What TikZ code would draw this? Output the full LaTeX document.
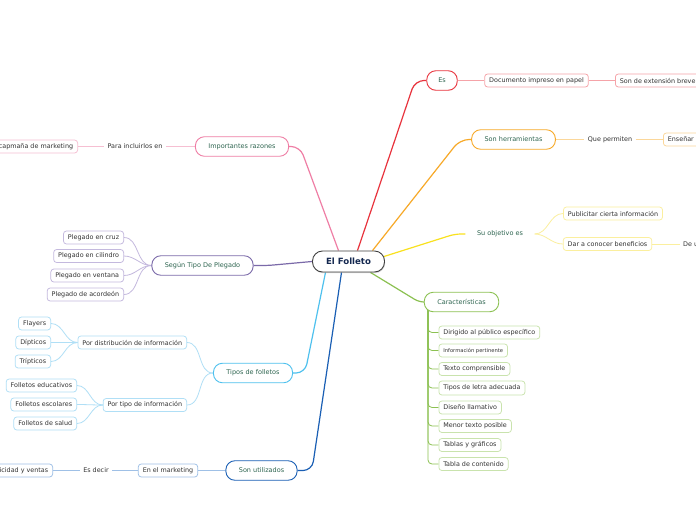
\documentclass[tikz,border=0pt]{standalone}
\usepackage{fontspec}
\setmainfont{DejaVu Sans}
\usetikzlibrary{calc,backgrounds,shadows}
\definecolor{redc}{HTML}{E8333D}
\definecolor{redl}{HTML}{F5A3A8}
\definecolor{orc}{HTML}{F7A928}
\definecolor{orl}{HTML}{FBD79A}
\definecolor{yelc}{HTML}{F9E11E}
\definecolor{yell}{HTML}{FBEF9E}
\definecolor{grc}{HTML}{8CC152}
\definecolor{grl}{HTML}{C9E3AD}
\definecolor{pkc}{HTML}{EF7EA5}
\definecolor{pkl}{HTML}{F6BFD2}
\definecolor{puc}{HTML}{7B6AA9}
\definecolor{pul}{HTML}{C4B9DE}
\definecolor{lbc}{HTML}{4FC1EE}
\definecolor{lbl}{HTML}{B0DFF6}
\definecolor{dbc}{HTML}{1A5FB4}
\definecolor{dbl}{HTML}{9FC0E6}
\definecolor{lvtext}{HTML}{2E6550}
\definecolor{ctext}{HTML}{333333}
\definecolor{roottext}{HTML}{142850}
\tikzset{
  rootbox/.style={draw=black!75, fill=white, rounded corners=10pt, line width=0.9pt,
    minimum height=21pt, inner xsep=13.5pt, inner ysep=0pt, text=roottext,
    font=\fontsize{8.6}{10}\selectfont\bfseries,
    drop shadow={shadow xshift=0.6pt, shadow yshift=-1.2pt, opacity=0.3}},
  lvone/.style={draw, fill=white, rounded corners=9pt, line width=0.9pt,
    minimum height=19.5pt, inner xsep=13pt, inner ysep=0pt, text=lvtext,
    font=\fontsize{6.5}{7.5}\selectfont},
  lvbare/.style={minimum height=19.5pt, inner xsep=11.5pt, inner ysep=0pt, text=lvtext,
    font=\fontsize{6.5}{7.5}\selectfont},
  lvtwo/.style={draw, fill=white, rounded corners=3pt, line width=0.75pt,
    minimum height=13pt, inner xsep=4.5pt, inner ysep=0pt, text=ctext},
  plainlbl/.style={minimum height=13pt, inner xsep=3.5pt, inner ysep=0pt, text=ctext},
  mainbr/.style={line width=1.2pt, rounded corners=9pt},
  subbr/.style={line width=0.8pt},
}
\begin{document}
\begin{tikzpicture}[x=1pt,y=-1pt, font=\fontsize{6.4}{7.5}\selectfont]
\useasboundingbox (0,0) rectangle (696,520);

% root
\node[rootbox] (root) at (348.5,261.5) {El Folleto};

% Es branch
\node[lvone, draw=redc, inner xsep=11.5pt] (es) at (442,80.5) {Es};
\node[lvtwo, draw=redl] (doc) at (536.5,80.5) {Documento impreso en papel};
\node[lvtwo, draw=redl, anchor=west] (ext) at (615,80.5) {Son de extensión breve};

% Son herramientas
\node[lvone, draw=orc] (herr) at (513.5,139.5) {Son herramientas};
\node[plainlbl] (que) at (610,139.5) {Que permiten};
\node[lvtwo, draw=orl, anchor=west, text width=60pt, align=left] (ens) at (663,139.5) {Enseñar};

% Su objetivo es
\node[lvbare] (obj) at (500,234) {Su objetivo es};
\node[lvtwo, draw=yell] (pub) at (613,213.5) {Publicitar cierta información};
\node[lvtwo, draw=yell] (dar) at (607.5,244) {Dar a conocer beneficios};
\node[plainlbl, anchor=west] (deu) at (679.5,244) {De un};

% Caracteristicas
\node[lvone, draw=grc] (car) at (461.5,302) {Características};
\node[lvtwo, draw=grl, anchor=west] (c1) at (438.5,332.5) {Dirigido al público específico};
\node[lvtwo, draw=grl, anchor=west, font=\fontsize{5.2}{6}\selectfont] (c2) at (438.5,350.5) {Información pertinente};
\node[lvtwo, draw=grl, anchor=west] (c3) at (438.5,369) {Texto comprensible};
\node[lvtwo, draw=grl, anchor=west, minimum height=14pt] (c4) at (438.5,388) {Tipos de letra adecuada};
\node[lvtwo, draw=grl, anchor=west] (c5) at (438.5,407.5) {Diseño llamativo};
\node[lvtwo, draw=grl, anchor=west] (c6) at (438.5,426) {Menor texto posible};
\node[lvtwo, draw=grl, anchor=west] (c7) at (438.5,445) {Tablas y gráficos};
\node[lvtwo, draw=grl, anchor=west] (c8) at (438.5,464) {Tabla de contenido};
\coordinate (cv) at (428,309);

% Importantes razones
\node[lvone, draw=pkc] (imp) at (242,146.5) {Importantes razones};
\node[plainlbl] (para) at (135,146.5) {Para incluirlos en};
\node[lvtwo, draw=pkl, anchor=east] (camp) at (78,146.5) {capmaña de marketing};

% Segun tipo de plegado
\node[lvone, draw=puc] (pleg) at (202.5,265.5) {Según Tipo De Plegado};
\node[lvtwo, draw=pul, anchor=east] (p1) at (124,237.5) {Plegado en cruz};
\node[lvtwo, draw=pul, anchor=east] (p2) at (124,256) {Plegado en cilindro};
\node[lvtwo, draw=pul, anchor=east] (p3) at (124,275.5) {Plegado en ventana};
\node[lvtwo, draw=pul, anchor=east] (p4) at (124,294.5) {Plegado de acordeón};

% Tipos de folletos
\node[lvone, draw=lbc] (tipos) at (253,373) {Tipos de folletos};
\node[lvtwo, draw=lbl, anchor=east] (dist) at (187,342.5) {Por distribución de información};
\node[lvtwo, draw=lbl, anchor=east] (tinf) at (187,405) {Por tipo de información};
\node[lvtwo, draw=lbl, anchor=east] (fl) at (51,323.5) {Flayers};
\node[lvtwo, draw=lbl, anchor=east] (di) at (51,342.5) {Dípticos};
\node[lvtwo, draw=lbl, anchor=east] (tr) at (51,361.5) {Trípticos};
\node[lvtwo, draw=lbl, anchor=east] (fe) at (77,385.5) {Folletos educativos};
\node[lvtwo, draw=lbl, anchor=east] (fs) at (77,404.5) {Folletos escolares};
\node[lvtwo, draw=lbl, anchor=east] (fsa) at (77,423.5) {Folletos de salud};

% Son utilizados
\node[lvone, draw=dbc] (util) at (261.5,470.5) {Son utilizados};
\node[lvtwo, draw=dbl] (mark) at (168,470.5) {En el marketing};
\node[plainlbl] (esd) at (96,470.5) {Es decir};
\node[lvtwo, draw=dbl, anchor=east] (pv) at (53,470.5) {Publicidad y ventas};

\begin{scope}[on background layer]
  \fill[white] (0,0) rectangle (696,520);
  % main branches
  \draw[mainbr, redc] ($(root.north)+(9,0)$) -- (415,80.5) -- (es.west);
  \draw[mainbr, orc] ($(root.north)+(24,0)$) -- (460,139.5) -- (herr.west);
  \draw[mainbr, yelc, rounded corners=6pt] ($(root.east)+(-1,-5)$) -- (455,234) -- (obj.west);
  \draw[mainbr, grc, rounded corners=5pt] ($(root.south)+(22,0)$) -- (419,302) -- (car.west);
  \draw[mainbr, pkc] ($(root.north)+(-10,0)$) -- (300,146.5) -- (imp.east);
  \draw[mainbr, puc, rounded corners=6pt] (root.west) -- (268,265.5) -- (pleg.east);
  \draw[mainbr, lbc] ($(root.south)+(-23,0)$) -- (305,373) -- (tipos.east);
  \draw[mainbr, dbc] ($(root.south)+(-7,0)$) -- (312,470.5) -- (util.east);

  % red sub
  \draw[subbr, redl] (es.east) -- (doc.west);
  \draw[subbr, redl] (doc.east) -- (ext.west);
  % orange sub
  \draw[subbr, orl] (herr.east) -- (que.west);
  \draw[subbr, orl] (que.east) -- (ens.west);
  % yellow sub
  \draw[subbr, yell] (obj.east) to[out=0,in=180] (pub.west);
  \draw[subbr, yell] (obj.east) to[out=0,in=180] (dar.west);
  \draw[subbr, yell] (dar.east) -- (deu.west);
  % green sub
  \foreach \c in {c1,c2,c3,c4,c5,c6,c7,c8}
    \draw[subbr, grc, rounded corners=4pt] (cv) |- (\c.west);
  % pink sub
  \draw[subbr, pkl] (imp.west) -- (para.east);
  \draw[subbr, pkl] (para.west) -- (camp.east);
  % purple sub
  \foreach \c in {p1,p2,p3,p4}
    \draw[subbr, pul] (pleg.west) to[out=180,in=0] (\c.east);
  % light blue sub
  \draw[subbr, lbl] (tipos.west) to[out=180,in=0] (dist.east);
  \draw[subbr, lbl] (tipos.west) to[out=180,in=0] (tinf.east);
  \foreach \c in {fl,di,tr}
    \draw[subbr, lbl] (dist.west) to[out=180,in=0] (\c.east);
  \foreach \c in {fe,fs,fsa}
    \draw[subbr, lbl] (tinf.west) to[out=180,in=0] (\c.east);
  % dark blue sub
  \draw[subbr, dbl] (util.west) -- (mark.east);
  \draw[subbr, dbl] (mark.west) -- (esd.east);
  \draw[subbr, dbl] (esd.west) -- (pv.east);
\end{scope}
\end{tikzpicture}
\end{document}
